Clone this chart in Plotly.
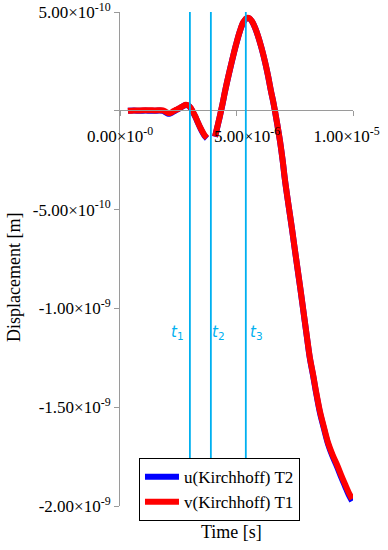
import plotly.graph_objects as go

# time in microseconds, displacement in units of 1e-10 m
time_us = [0.34, 0.6, 0.86, 1.1, 1.29, 1.5, 1.7, 1.85, 1.95, 2.05, 2.15, 2.25, 2.36, 2.47, 2.58, 2.7,
           2.83, 2.96, 3.05, 3.13, 3.24, 3.35, 3.46, 3.56, 3.65, 3.73, None, 4.08, 4.18, 4.29, 4.4,
           4.51, 4.66, 4.81, 4.98, 5.15, 5.3, 5.45, 5.56, 5.67, 5.8, 5.92, 6.07, 6.22, 6.35, 6.48,
           6.57, 6.65, 6.76, 6.87, 6.98, 7.08, 7.23, 7.38, 7.55, 7.73, 7.88, 8.03, 8.15, 8.28, 8.43,
           8.58, 8.75, 8.93, 9.12, 9.31, 9.48, 9.66, 9.81, 9.96]
v_T1 = [0.0, 0.02, 0.02, 0.03, 0.03, 0.02, 0.03, 0.02, -0.04, -0.1, -0.11, -0.05, 0.02, 0.08, 0.15, 0.24,
        0.3, 0.25, 0.12, -0.05, -0.3, -0.6, -0.88, -1.1, -1.27, -1.37, None, -1.3, -0.8, -0.25, 0.35,
        1.0, 1.8, 2.55, 3.35, 4.05, 4.5, 4.7, 4.68, 4.52, 4.2, 3.8, 3.2, 2.5, 1.8, 1.0,
        0.5, 0.0, -0.75, -1.55, -2.5, -3.5, -4.75, -5.95, -7.4, -8.9, -10.2, -11.5, -12.5, -13.3, -14.3,
        -15.2, -16.0, -16.8, -17.4, -17.9, -18.4, -18.9, -19.3, -19.65]
u_T2 = [0.0, 0.01, 0.0, 0.01, 0.0, 0.0, 0.01, -0.01, -0.07, -0.14, -0.14, -0.08, 0.0, 0.07, 0.14, 0.23,
        0.29, 0.24, 0.11, -0.07, -0.32, -0.62, -0.9, -1.13, -1.3, -1.4, None, -1.31, -0.81, -0.26, 0.34,
        0.99, 1.79, 2.54, 3.34, 4.04, 4.49, 4.69, 4.67, 4.51, 4.19, 3.79, 3.19, 2.49, 1.79, 0.99,
        0.49, -0.01, -0.76, -1.56, -2.51, -3.51, -4.76, -5.97, -7.42, -8.92, -10.22, -11.53, -12.54, -13.35, -14.36,
        -15.27, -16.07, -16.87, -17.48, -17.99, -18.5, -19.0, -19.42, -19.75]

event_times_us = [3.0, 3.9, 5.4]
event_labels = ["<i>t</i><sub>1</sub>", "<i>t</i><sub>2</sub>", "<i>t</i><sub>3</sub>"]

x_tickvals = [0, 5e-6, 1e-5]
x_ticktext = ["0.00×10<sup>-0</sup>",
              "&nbsp;&nbsp;&nbsp;&nbsp;&nbsp;5.00×10<sup>-6</sup>",
              "1.00×10<sup>-5</sup>&nbsp;&nbsp;&nbsp;"]
y_tickvals = [5e-10, 0, -5e-10, -1e-9, -1.5e-9, -2e-9]
y_ticktext = ["5.00×10<sup>-10</sup>", "", "-5.00×10<sup>-10</sup>", "-1.00×10<sup>-9</sup>",
              "-1.50×10<sup>-9</sup>", "-2.00×10<sup>-9</sup>"]

US = 1e-6
UNIT = 1e-10
t = [None if x is None else x * US for x in time_us]
u = [None if x is None else x * UNIT for x in u_T2]
v = [None if x is None else x * UNIT for x in v_T1]

FONT = "Liberation Serif"
CYAN = "#00B0F0"
AX = "#9a9a9a"

fig = go.Figure()
fig.add_trace(go.Scatter(x=t, y=u, mode="lines", name="u(Kirchhoff) T2",
                         line=dict(color="#0000FF", width=6, shape="spline"), connectgaps=False))
fig.add_trace(go.Scatter(x=t, y=v, mode="lines", name="v(Kirchhoff) T1",
                         line=dict(color="#FF0000", width=6, shape="spline"), connectgaps=False))

shifts = [-12, 8, 11]
for tt, lab, sh in zip(event_times_us, event_labels, shifts):
    fig.add_shape(type="line", xref="x", yref="paper", x0=tt * US, x1=tt * US, y0=0, y1=1,
                  line=dict(color=CYAN, width=1.8), layer="above")
    fig.add_annotation(x=tt * US, y=-1.12e-9, xref="x", yref="y", text=lab, showarrow=False,
                       xshift=sh, xanchor="center", yanchor="middle",
                       font=dict(family="DejaVu Sans", size=15, color=CYAN))

fig.add_annotation(text="Displacement [m]", xref="paper", yref="paper", x=-0.455, y=0.4636,
                   xanchor="center", yanchor="middle",
                   textangle=-90, showarrow=False, font=dict(family=FONT, size=18, color="black"))
fig.add_annotation(text="Time [s]", xref="paper", yref="paper", x=0.48, y=-0.0526,
                   xanchor="center", yanchor="middle",
                   showarrow=False, font=dict(family=FONT, size=18, color="black"))

fig.update_layout(
    width=388, height=550,
    margin=dict(l=120, r=35, t=12, b=44, autoexpand=False),
    paper_bgcolor="white", plot_bgcolor="white",
    font=dict(family=FONT, size=17, color="black"),
    showlegend=True,
    legend=dict(x=0.0815, y=0.097, xanchor="left", yanchor="top",
                bgcolor="white", bordercolor="black", borderwidth=1,
                font=dict(family=FONT, size=17, color="black"),
                itemwidth=34, tracegroupgap=0),
    xaxis=dict(range=[0, 1e-5], tickvals=x_tickvals, ticktext=x_ticktext,
               anchor="free", position=0.8016, showline=True, linecolor=AX, linewidth=1,
               ticks="outside", ticklen=5, tickcolor=AX, showgrid=False, zeroline=False,
               automargin=False, ticklabeloverflow="allow",
               tickfont=dict(family=FONT, size=17, color="black"), ticklabelstandoff=6),
    yaxis=dict(range=[-2e-9, 5e-10], tickvals=y_tickvals, ticktext=y_ticktext,
               showline=True, linecolor=AX, linewidth=1,
               ticks="outside", ticklen=5, tickcolor=AX, showgrid=False, zeroline=False,
               automargin=False, ticklabeloverflow="allow",
               tickfont=dict(family=FONT, size=17, color="black")),
)

fig.write_html("out.html", config={"displayModeBar": False},
               post_script="document.body.style.margin='0px';")
